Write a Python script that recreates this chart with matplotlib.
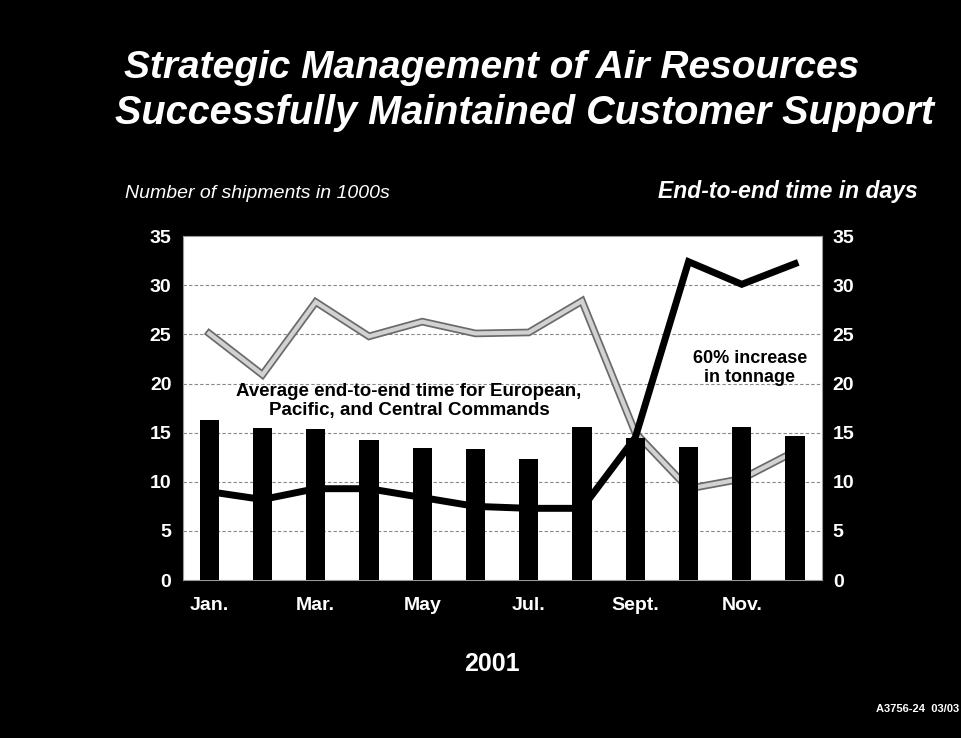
import numpy as np
import matplotlib.pyplot as plt

plt.rcParams['font.family'] = ['Liberation Sans', 'DejaVu Sans']

months = ['Jan.', 'Feb.', 'Mar.', 'Apr.', 'May', 'Jun.', 'Jul.', 'Aug.', 'Sept.', 'Oct.', 'Nov.', 'Dec.']
# bars: average end-to-end time (days)
end_to_end = [16.3, 15.5, 15.4, 14.3, 13.4, 13.3, 12.3, 15.6, 14.5, 13.5, 15.6, 14.7]
# gray line
gray_series = [25.1, 20.9, 28.3, 24.8, 26.3, 25.1, 25.2, 28.4, 15.0, 9.3, 10.3, 13.1]
# black line (tonnage)
tonnage = [9.0, 8.2, 9.3, 9.3, 8.4, 7.5, 7.3, 7.3, 14.5, 32.4, 30.1, 32.2]
yticks = [0, 5, 10, 15, 20, 25, 30, 35]

x = np.arange(len(months))

fig = plt.figure(figsize=(9.61, 7.38), dpi=100, facecolor='black')
ax = fig.add_axes([0.190, 0.214, 0.665, 0.466])
ax.set_facecolor('white')

# lines sit behind the bars
ax.plot(x, gray_series, color='#6a6a6a', lw=5.5, solid_joinstyle='miter', zorder=2)
ax.plot(x, gray_series, color='#d2d2d2', lw=3, solid_joinstyle='miter', zorder=2.1)
ax.plot(x, tonnage, color='black', lw=5, solid_joinstyle='miter', zorder=2.2)
ax.bar(x, end_to_end, width=0.36, color='black', zorder=3)

ax.set_xlim(-0.5, 11.5)
ax.set_ylim(0, 35)
ax.set_yticks(yticks)
for v in yticks[1:-1]:
    ax.axhline(v, color='#888888', lw=0.8, ls=(0, (3, 2)), zorder=1)

ax.set_xticks(x[::2])
ax.set_xticklabels(months[::2])
ax.tick_params(axis='x', colors='white', labelsize=14, length=0, pad=12)
ax.tick_params(axis='y', colors='white', labelsize=14, length=0, pad=8)
for lab in ax.get_xticklabels() + ax.get_yticklabels():
    lab.set_fontweight('bold')
    lab.set_color('white')
for s in ax.spines.values():
    s.set_color('#999999')
    s.set_linewidth(0.8)
    s.set_linestyle((0, (2, 1)))

ax2 = ax.twinx()
ax2.set_ylim(0, 35)
ax2.set_yticks(yticks)
ax2.tick_params(axis='y', colors='white', labelsize=14, length=0, pad=8)
for lab in ax2.get_yticklabels():
    lab.set_fontweight('bold')
    lab.set_color('white')
for s in ax2.spines.values():
    s.set_visible(False)

ax.text(3.75, 18.2, 'Average end-to-end time for European,\nPacific, and Central Commands',
        ha='center', va='center', fontsize=13.5, fontweight='bold', color='black',
        linespacing=1.15, zorder=4)
ax.text(10.15, 21.6, '60% increase\nin tonnage', ha='center', va='center',
        fontsize=13, fontweight='bold', color='black', linespacing=1.15, zorder=4)

fig.text(0.512, 0.908, 'Strategic Management of Air Resources', ha='center', va='center',
         color='white', fontsize=28, fontweight='bold', fontstyle='italic')
fig.text(0.546, 0.847, 'Successfully Maintained Customer Support', ha='center', va='center',
         color='white', fontsize=28.5, fontweight='bold', fontstyle='italic')
fig.text(0.130, 0.738, 'Number of shipments in 1000s', ha='left', va='center',
         color='white', fontsize=14, fontstyle='italic')
fig.text(0.955, 0.740, 'End-to-end time in days', ha='right', va='center',
         color='white', fontsize=16.5, fontstyle='italic', fontweight='bold')
fig.text(0.512, 0.100, '2001', ha='center', va='center', color='white',
         fontsize=18, fontweight='bold')
fig.text(0.998, 0.039, 'A3756-24  03/03', ha='right', va='center', color='white',
         fontsize=8, fontweight='bold')

fig.savefig('out.png', dpi=100, facecolor='black')
